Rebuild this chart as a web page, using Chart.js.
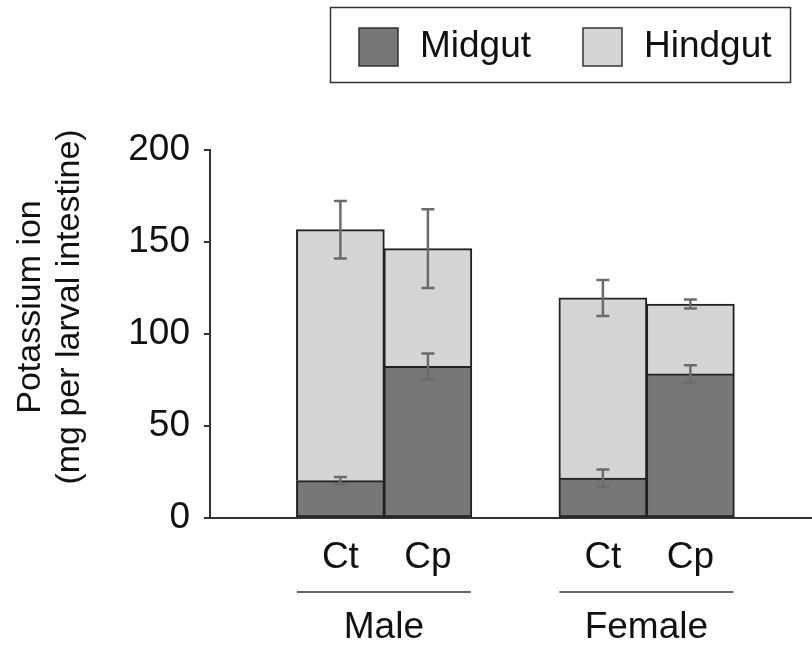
<!DOCTYPE html>
<html>
<head>
<meta charset="utf-8">
<script src="https://cdn.jsdelivr.net/npm/chart.js@4"></script>
<style>
  html, body { margin: 0; padding: 0; background: #fff; }
  canvas { display: block; }
</style>
</head>
<body>
<canvas id="chartKu" width="812" height="646"></canvas>
<script>
const groups = ['Male', 'Female']
const treatments = ['Ct', 'Cp']
const midgut = [20.3, 82.4, 21.7, 78.3]
const hindgut = [136.4, 64.0, 97.9, 38.0]
const midgutErr = [2.0, 7.0, 4.7, 4.7]
const totalErr = [15.6, 21.4, 9.8, 2.5]
const yTicks = [0, 50, 100, 150, 200]

const FONT = '"Liberation Sans", Arial, Helvetica, sans-serif'
const INK = '#222'

// each group takes two bar slots plus one empty slot between groups
const slots = []
const slotLabels = []
groups.forEach((g, gi) => {
    treatments.forEach((t, ti) => {
        slots.push(gi * 3 + ti + 1)
        slotLabels.push(t)
    })
})

const pts = arr => arr.map((v, i) => ({ x: slots[i], y: v }))

const extras = {
    id: 'extras',
    afterDatasetsDraw(chart) {
        const c = chart.ctx
        const xs = chart.scales.x
        const ys = chart.scales.y

        // error bars: midgut top and stacked total
        c.save()
        c.strokeStyle = '#6b6b6b'
        c.lineWidth = 2.5
        const bar = (x, v, e) => {
            const top = ys.getPixelForValue(v + e)
            const bot = ys.getPixelForValue(v - e)
            c.beginPath()
            c.moveTo(x, top); c.lineTo(x, bot)
            c.moveTo(x - 6.5, top); c.lineTo(x + 6.5, top)
            c.moveTo(x - 6.5, bot); c.lineTo(x + 6.5, bot)
            c.stroke()
        }
        slots.forEach((s, i) => {
            const x = xs.getPixelForValue(s)
            bar(x, midgut[i], midgutErr[i])
            bar(x, midgut[i] + hindgut[i], totalErr[i])
        })
        c.restore()
    },
    afterDraw(chart) {
        const c = chart.ctx
        const xs = chart.scales.x
        c.save()
        c.fillStyle = '#111'
        c.font = '37px ' + FONT
        c.textAlign = 'center'
        c.textBaseline = 'middle'

        // treatment labels, group rules and group names
        slots.forEach((s, i) => {
            c.fillText(slotLabels[i], xs.getPixelForValue(s), 558)
        })
        groups.forEach((g, gi) => {
            const a = xs.getPixelForValue(gi * 3 + 1) - 43.5
            const b = xs.getPixelForValue(gi * 3 + 2) + 43
            c.strokeStyle = '#333'
            c.lineWidth = 1.5
            c.beginPath()
            c.moveTo(a, 592); c.lineTo(b, 592)
            c.stroke()
            c.fillText(g, (a + b) / 2, 628)
        })

        // legend in a frame
        c.strokeStyle = '#333'
        c.lineWidth = 1.5
        c.strokeRect(330.5, 7.5, 460, 75)
        const lx = [359, 583]
        chart.data.datasets.forEach((ds, i) => {
            c.fillStyle = ds.backgroundColor
            c.fillRect(lx[i], 28, 39, 38)
            c.strokeStyle = '#333'
            c.strokeRect(lx[i], 28, 39, 38)
            c.fillStyle = '#111'
            c.textAlign = 'left'
            c.fillText(ds.label, lx[i] + 61, 47)
        })

        // y axis title
        c.font = '34px ' + FONT
        c.textAlign = 'center'
        c.translate(31, 307)
        c.rotate(-Math.PI / 2)
        c.fillText('Potassium ion', 0, 0)
        c.fillText('(mg per larval intestine)', 0, 39)
        c.restore()
    }
}

new Chart(document.getElementById('chartKu'), {
    type: 'bar',
    data: {
        datasets: [
            {
                label: 'Midgut',
                data: pts(midgut),
                backgroundColor: '#777777',
                borderColor: INK,
                borderWidth: 2,
                borderSkipped: false,
                barThickness: 88
            },
            {
                label: 'Hindgut',
                data: pts(hindgut),
                backgroundColor: '#d5d5d5',
                borderColor: INK,
                borderWidth: 2,
                borderSkipped: 'bottom',
                barThickness: 88
            }
        ]
    },
    options: {
        responsive: false,
        animation: false,
        devicePixelRatio: 1,
        layout: { padding: { top: 150, right: 0, left: 0, bottom: 0 } },
        plugins: {
            legend: { display: false },
            tooltip: { enabled: false }
        },
        scales: {
            x: {
                type: 'linear',
                stacked: true,
                offset: false,
                min: -0.49,
                max: 6.39,
                grid: { display: false },
                border: { color: '#333', width: 2 },
                ticks: { display: false },
                afterFit: s => { s.height = 128 }
            },
            y: {
                stacked: true,
                min: 0,
                max: 200,
                afterBuildTicks: s => { s.ticks = yTicks.map(v => ({ value: v })) },
                grid: { drawOnChartArea: false, tickLength: 6, color: '#333', lineWidth: 2 },
                border: { color: '#333', width: 2 },
                ticks: { padding: 14, color: '#111', font: { family: FONT, size: 37 } },
                afterFit: s => { s.width = 210 }
            }
        }
    },
    plugins: [extras]
})
</script>
</body>
</html>
